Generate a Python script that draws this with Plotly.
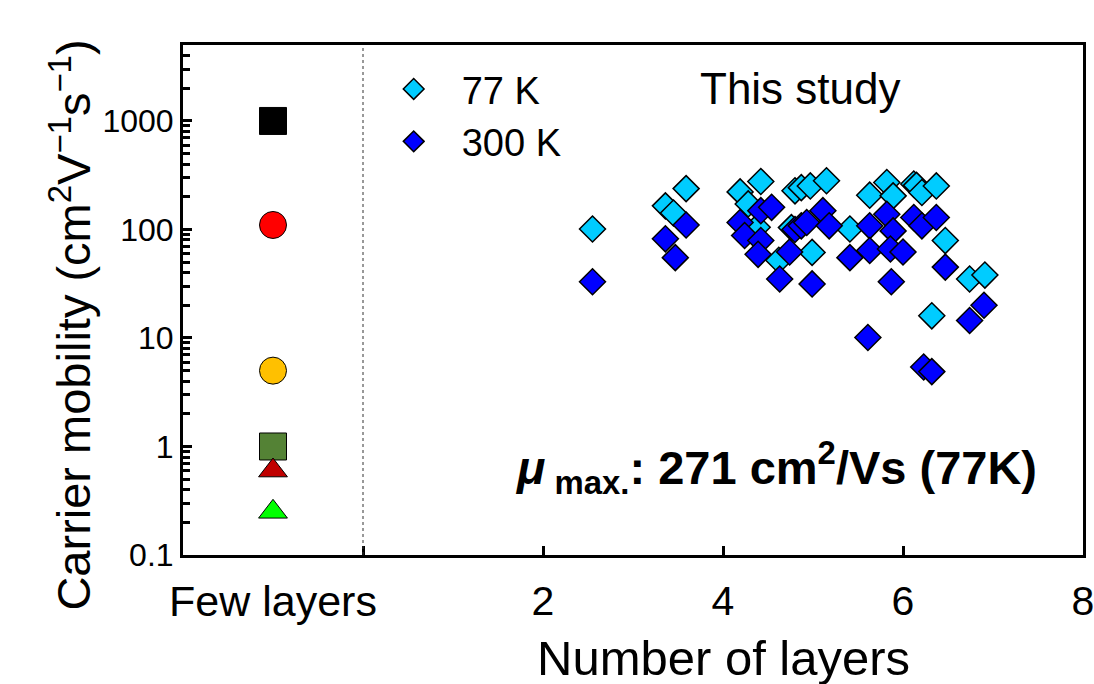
import plotly.graph_objects as go

# Reference materials (few-layer) mobilities, plotted in the left panel at x = -1
ref_x = [-1, -1, -1, -1, -1, -1]
ref_mobility = [1000, 110, 5, 1.0, 0.6, 0.25]
ref_symbols = ["square", "circle", "circle", "square", "triangle-up", "triangle-up"]
ref_colors = ["#000000", "#FF0000", "#FFC000", "#548235", "#C00000", "#00FF00"]
ref_sizes = [27, 27, 27, 27, 25, 25]

# This study: mobility vs number of layers at 77 K
layers_77k = [2.55, 3.36, 3.45, 3.59, 4.19, 4.28, 4.42, 4.38, 4.62, 4.76, 4.80,
              4.87, 4.97, 5.15, 4.99, 5.41, 5.63, 5.82, 5.89, 6.12, 6.15, 6.21,
              6.37, 6.47, 6.32, 6.74, 6.91]
mobility_77k = [101, 165, 142, 238, 222, 172, 277, 105, 52, 104, 227,
                243, 252, 281, 61.5, 101, 207, 271, 204, 262, 255, 219,
                252, 79, 16, 35, 38]

# This study: mobility vs number of layers at 300 K
layers_300k = [2.55, 3.36, 3.47, 3.59, 4.19, 4.24, 4.42, 4.54, 4.42, 4.39, 4.63,
               4.74, 4.80, 4.87, 4.93, 4.99, 5.11, 5.18, 5.41, 5.63, 5.63, 5.61,
               5.82, 5.89, 5.86, 5.87, 6.00, 6.12, 6.21, 6.37, 6.47, 6.23, 6.32,
               6.74, 6.90]
mobility_300k = [33, 82, 55, 110, 116, 88, 149, 160, 79, 59, 35,
                 62, 100, 108, 116, 31.5, 149, 108, 55, 108, 64, 10.1,
                 138, 97, 66, 33, 62, 129, 108, 129, 45, 5.4, 4.9,
                 14.5, 20]

x_tickvals = [0, 2, 4, 6, 8]
x_ticktext = ["", "2", "4", "6", "8"]

# minor log ticks: 2..9 within each decade
y_minor = [m * 10.0 ** e for e in range(-1, 4) for m in range(2, 10)]

FONT = "Liberation Sans, Arial, sans-serif"
Y_RANGE = [-1, 3.7]

fig = go.Figure()

# empty trace so that the minor-tick companion axis gets drawn
fig.add_trace(go.Scatter(x=[None], y=[None], yaxis="y2", mode="markers",
                         showlegend=False, hoverinfo="skip"))

fig.add_trace(go.Scatter(
    x=ref_x, y=ref_mobility, mode="markers", showlegend=False,
    marker=dict(symbol=ref_symbols, color=ref_colors, size=ref_sizes, opacity=1,
                line=dict(color="black", width=1)),
))

fig.add_trace(go.Scatter(
    x=layers_77k, y=mobility_77k, mode="markers", name="77 K",
    marker=dict(symbol="diamond", color="#00CCFF", size=20, opacity=1,
                line=dict(color="black", width=1.5)),
))
fig.add_trace(go.Scatter(
    x=layers_300k, y=mobility_300k, mode="markers", name="300 K",
    marker=dict(symbol="diamond", color="#0000FF", size=20, opacity=1,
                line=dict(color="black", width=1.5)),
))

# separator between the reference panel and this study
fig.add_shape(type="line", x0=0, x1=0, y0=0, y1=1, xref="x", yref="paper",
              line=dict(color="#333333", width=1, dash="dot"))

fig.add_annotation(x=-1, y=0, xref="x", yref="paper", yshift=-20,
                   text="Few layers", showarrow=False, yanchor="top",
                   font=dict(family=FONT, size=43, color="black"))
fig.add_annotation(x=4, y=0, xref="x", yref="paper", yshift=-74,
                   text="Number of layers", showarrow=False, yanchor="top",
                   font=dict(family=FONT, size=49, color="black"))
fig.add_annotation(x=4.86, y=3.30, xref="x", yref="y",
                   text="This study", showarrow=False,
                   font=dict(family=FONT, size=44, color="black"))
fig.add_annotation(x=4.59, y=-0.19, xref="x", yref="y",
                   text="<b><i>μ</i><sub> max.</sub>: 271 cm<sup>2</sup>/Vs (77K)</b>",
                   showarrow=False,
                   font=dict(family=FONT, size=47, color="black"))
fig.add_annotation(x=-0.161, y=0.45, xref="paper", yref="paper", textangle=-90,
                   text="Carrier mobility (cm<sup>2</sup>V<sup>−1</sup>s<sup>−1</sup>)",
                   showarrow=False,
                   font=dict(family=FONT, size=47, color="black"))

fig.update_layout(
    width=1094, height=684,
    margin=dict(l=183, r=11, t=45, b=129),
    paper_bgcolor="white", plot_bgcolor="white",
    legend=dict(x=0.203, y=0.975, xanchor="left", yanchor="top",
                bgcolor="rgba(0,0,0,0)", tracegroupgap=0, itemwidth=86,
                font=dict(family=FONT, size=38, color="black")),
    xaxis=dict(
        range=[-2, 8], tickmode="array", tickvals=x_tickvals, ticktext=x_ticktext,
        ticks="inside", ticklen=9, tickwidth=2.5, tickcolor="black",
        ticklabeloverflow="allow", ticklabelstandoff=8,
        showline=True, linecolor="black", linewidth=3, mirror=True,
        showgrid=False, zeroline=False, automargin=False,
        tickfont=dict(family=FONT, size=41, color="black"),
    ),
    yaxis=dict(
        type="log", range=Y_RANGE,
        tickmode="linear", tick0=0, dtick=1,
        ticks="inside", ticklen=9, tickwidth=3, tickcolor="black",
        showline=True, linecolor="black", linewidth=3, mirror=True,
        showgrid=False, zeroline=False, automargin=False,
        tickfont=dict(family=FONT, size=32, color="black"),
    ),
    # companion axis carrying the minor log ticks
    yaxis2=dict(
        type="log", range=Y_RANGE, overlaying="y", anchor="x", side="left",
        tickmode="array", tickvals=y_minor, showticklabels=False,
        ticks="inside", ticklen=7, tickwidth=2.5, tickcolor="black",
        showline=False, showgrid=False, zeroline=False, automargin=False,
    ),
)

fig.write_html("out.html")
